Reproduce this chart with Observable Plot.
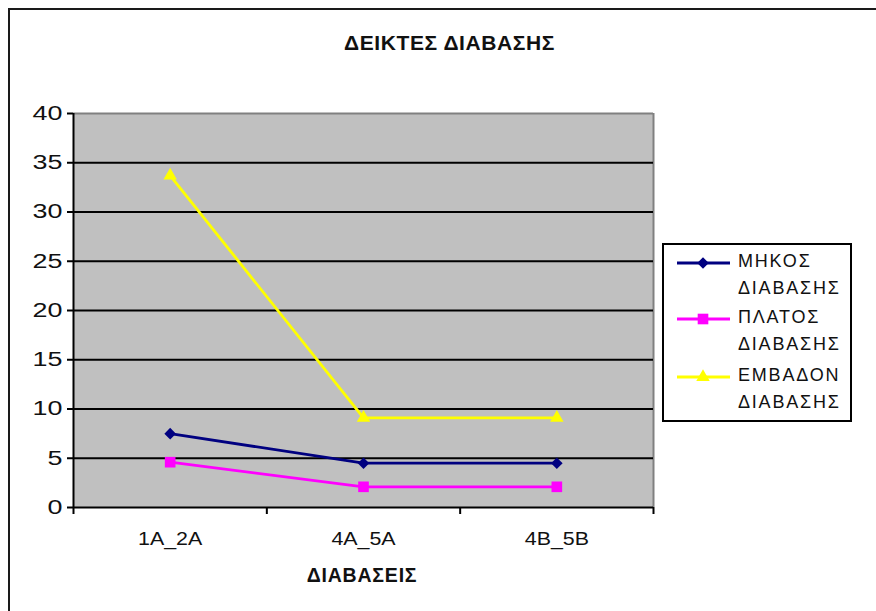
<!DOCTYPE html>
<html>
<head>
<meta charset="utf-8">
<script src="https://cdn.jsdelivr.net/npm/d3@7"></script>
<script src="https://cdn.jsdelivr.net/npm/@observablehq/plot@0.6"></script>
<style>
html,body{margin:0;padding:0;background:#fff;overflow:hidden;}
#wrap{position:relative;width:876px;height:611px;overflow:hidden;background:#fff;font-family:"Liberation Sans",Arial,sans-serif;}
#frame{position:absolute;left:8px;top:8px;width:1000px;height:1000px;border-left:2.5px solid #1a1a1a;border-top:2.5px solid #1a1a1a;pointer-events:none;}
#chart{position:absolute;left:0;top:0;}
#title{position:absolute;left:0;width:899px;top:32px;text-align:center;font-weight:bold;font-size:21px;line-height:21px;color:#111;letter-spacing:0.6px;}
#xtitle{position:absolute;left:262px;width:200px;top:566px;text-align:center;font-weight:bold;font-size:19.5px;line-height:19.5px;color:#111;letter-spacing:0.8px;}
#legend{position:absolute;left:662px;top:243px;}
</style>
</head>
<body>
<div id="wrap">
  <div id="chart"></div>
  <div id="title">ΔΕΙΚΤΕΣ ΔΙΑΒΑΣΗΣ</div>
  <div id="xtitle">ΔΙΑΒΑΣΕΙΣ</div>
  <div id="legend"></div>
  <div id="frame"></div>
</div>
<script>
// ---- data ----
const categories = ["1A_2A", "4A_5A", "4B_5B"];
const seriesNames = ["ΜΗΚΟΣ ΔΙΑΒΑΣΗΣ", "ΠΛΑΤΟΣ ΔΙΑΒΑΣΗΣ", "ΕΜΒΑΔΟΝ ΔΙΑΒΑΣΗΣ"];
const lengthValues = [7.5, 4.5, 4.5];
const widthValues = [4.6, 2.1, 2.1];
const areaValues = [33.7, 9.1, 9.1];
const yTicks = [0, 5, 10, 15, 20, 25, 30, 35, 40];
const seriesColors = ["#000080", "#FF00FF", "#FFFF00"];
const seriesSymbols = ["diamond2", "square", "triangle"];
const seriesRadius = [5.2, 6.0, 5.0];

const seriesValues = [lengthValues, widthValues, areaValues];
const data = [];
seriesValues.forEach((vals, s) => vals.forEach((v, i) => data.push({
  series: seriesNames[s], cat: categories[i], pos: i + 0.5, value: v
})));

const dotMarks = seriesNames.map((name, s) => Plot.dot(data.filter(d => d.series === name), {
  x: "pos", y: "value", symbol: () => seriesSymbols[s], fill: seriesColors[s], stroke: null, r: seriesRadius[s]
}));

const chart = Plot.plot({
  width: 876, height: 611,
  marginLeft: 73, marginRight: 223, marginTop: 113, marginBottom: 104,
  style: {background: "transparent", fontFamily: "Liberation Sans, Arial, sans-serif", overflow: "visible", color: "#111"},
  x: {type: "linear", domain: [0, categories.length]},
  y: {domain: [0, 40]},
  symbol: {type: "identity"},
  marks: [
    Plot.frame({fill: "#c0c0c0", stroke: null}),
    Plot.ruleY([40], {stroke: "#808080", strokeWidth: 2}),
    Plot.ruleX([categories.length], {stroke: "#808080", strokeWidth: 2}),
    Plot.ruleY(yTicks.filter(d => d > 0 && d < 40), {stroke: "#000", strokeWidth: 2}),
    Plot.axisY({ticks: yTicks, tickSize: 6, tickPadding: 5, fontSize: 19.5, stroke: "#000", strokeWidth: 2, label: null}),
    Plot.axisX({ticks: d3.range(categories.length + 1), tickSize: 7, tickFormat: () => "", stroke: "#000", strokeWidth: 2, label: null}),
    Plot.axisX({ticks: categories.map((c, i) => i + 0.5), tickSize: 0, tickPadding: 24.5, fontSize: 18.6,
      tickFormat: d => categories[Math.floor(d)], label: null}),
    Plot.ruleX([0], {stroke: "#000", strokeWidth: 2}),
    Plot.ruleY([0], {stroke: "#000", strokeWidth: 2}),
    Plot.line(data, {x: "pos", y: "value", z: "series", stroke: d => seriesColors[seriesNames.indexOf(d.series)], strokeWidth: 2.8}),
    ...dotMarks
  ]
});
document.getElementById("chart").appendChild(chart);

// horizontally stretch tick labels like the original (glyph stretch, position untouched)
function stretch(sel, sx) {
  d3.select(chart).selectAll(sel).each(function () {
    const len = this.getComputedTextLength();
    if (len > 0) {
      this.setAttribute("textLength", (len * sx).toFixed(2));
      this.setAttribute("lengthAdjust", "spacingAndGlyphs");
    }
  });
}
stretch('g[aria-label="y-axis tick label"] text', 1.38);
stretch('g[aria-label="x-axis tick label"] text', 1.15);

// ---- legend ----
const lw = 190, lh = 179;
const leg = d3.select("#legend").append("svg").attr("width", lw).attr("height", lh)
  .style("font-family", "Liberation Sans, Arial, sans-serif");
leg.append("rect").attr("x", 1).attr("y", 1).attr("width", lw - 2).attr("height", lh - 2)
  .attr("fill", "#fff").attr("stroke", "#000").attr("stroke-width", 2);
const d3Symbols = {diamond2: d3.symbolDiamond2, square: d3.symbolSquare, triangle: d3.symbolTriangle};
const entryY = [20, 76, 134];
seriesNames.forEach((name, s) => {
  const y = entryY[s];
  leg.append("line").attr("x1", 15).attr("x2", 68).attr("y1", y).attr("y2", y)
    .attr("stroke", seriesColors[s]).attr("stroke-width", 2.8);
  leg.append("path").attr("transform", `translate(41,${y})`)
    .attr("d", d3.symbol(d3Symbols[seriesSymbols[s]], Math.PI * seriesRadius[s] * seriesRadius[s])())
    .attr("fill", seriesColors[s]);
  const words = name.split(" ");
  words.forEach((w, k) => {
    leg.append("text").attr("x", 76).attr("y", y - 2 + k * 27 + 6.4)
      .attr("font-size", 18).attr("letter-spacing", 1.8).attr("fill", "#111").text(w);
  });
});
</script>
</body>
</html>
